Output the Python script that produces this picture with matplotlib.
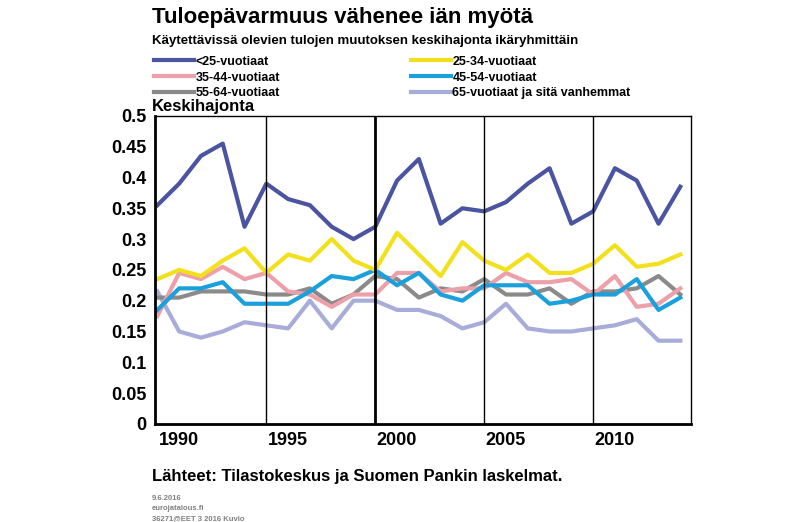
import matplotlib
matplotlib.use("Agg")
import matplotlib.pyplot as plt
from matplotlib.lines import Line2D

years = list(range(1989, 2014))
under25 = [0.355, 0.39, 0.435, 0.455, 0.32, 0.39, 0.365, 0.355, 0.32, 0.30, 0.32, 0.395, 0.43,
           0.325, 0.35, 0.345, 0.36, 0.39, 0.415, 0.325, 0.345, 0.415, 0.395, 0.325, 0.385]
age25_34 = [0.235, 0.25, 0.24, 0.265, 0.285, 0.245, 0.275, 0.265, 0.30, 0.265, 0.25, 0.31, 0.275,
            0.24, 0.295, 0.265, 0.25, 0.275, 0.245, 0.245, 0.26, 0.29, 0.255, 0.26, 0.275]
age35_44 = [0.175, 0.245, 0.235, 0.255, 0.235, 0.245, 0.215, 0.21, 0.19, 0.21, 0.21, 0.245, 0.245,
            0.215, 0.22, 0.22, 0.245, 0.23, 0.23, 0.235, 0.21, 0.24, 0.19, 0.195, 0.22]
age45_54 = [0.185, 0.22, 0.22, 0.23, 0.195, 0.195, 0.195, 0.215, 0.24, 0.235, 0.25, 0.225, 0.245,
            0.21, 0.2, 0.225, 0.225, 0.225, 0.195, 0.2, 0.21, 0.21, 0.235, 0.185, 0.205]
age55_64 = [0.205, 0.205, 0.215, 0.215, 0.215, 0.21, 0.21, 0.22, 0.195, 0.21, 0.24, 0.235, 0.205,
            0.22, 0.215, 0.235, 0.21, 0.21, 0.22, 0.195, 0.215, 0.215, 0.22, 0.24, 0.21]
age65 = [0.215, 0.15, 0.14, 0.15, 0.165, 0.16, 0.155, 0.2, 0.155, 0.2, 0.2, 0.185, 0.185,
         0.175, 0.155, 0.165, 0.195, 0.155, 0.15, 0.15, 0.155, 0.16, 0.17, 0.135, 0.135]

series = [("<25-vuotiaat", under25, "#4a54a0"),
          ("25-34-vuotiaat", age25_34, "#f2e01a"),
          ("35-44-vuotiaat", age35_44, "#eda0a8"),
          ("45-54-vuotiaat", age45_54, "#1aa0dc"),
          ("55-64-vuotiaat", age55_64, "#8a8a8a"),
          ("65-vuotiaat ja sitä vanhemmat", age65, "#a8acd8")]
# draw order: <25 last so it sits on top
draw_order = [5, 4, 2, 3, 1, 0]

plt.rcParams["font.family"] = "Liberation Sans"
fig = plt.figure(figsize=(8, 5.22), dpi=100)
ax = fig.add_axes([0.194, 0.188, 0.67, 0.59])
for i in draw_order:
    name, vals, col = series[i]
    ax.plot(years, vals, color=col, lw=3)

ax.set_xlim(1988.9, 2013.5)
ax.set_ylim(0, 0.5)
ax.set_yticks([i * 0.05 for i in range(11)])
ax.set_yticklabels(["0", "0.05", "0.1", "0.15", "0.2", "0.25", "0.3", "0.35", "0.4", "0.45", "0.5"],
                   fontsize=13, fontweight="bold")
ax.set_xticks([1990, 1995, 2000, 2005, 2010])
ax.set_xticklabels(["1990", "1995", "2000", "2005", "2010"], fontsize=13, fontweight="bold")
for x in [1994, 2004, 2009]:
    ax.axvline(x, color="black", lw=1)
ax.axvline(1999, color="black", lw=2)
ax.tick_params(length=0, pad=6)
for s in ax.spines.values():
    s.set_linewidth(1)
ax.spines["left"].set_linewidth(2)
ax.spines["bottom"].set_linewidth(2)

fig.text(0.19, 0.955, "Tuloepävarmuus vähenee iän myötä", fontsize=16, fontweight="bold")
fig.text(0.19, 0.915, "Käytettävissä olevien tulojen muutoksen keskihajonta ikäryhmittäin",
         fontsize=9.5, fontweight="bold")
fig.text(0.19, 0.788, "Keskihajonta", fontsize=12, fontweight="bold")

handles = [Line2D([0], [0], color=c, lw=3) for _, _, c in series]
labels = [n for n, _, _ in series]
order = [0, 2, 4, 1, 3, 5]
fig.legend([handles[i] for i in order], [labels[i] for i in order], ncol=2,
           loc="upper left", bbox_to_anchor=(0.185, 0.905), frameon=False,
           prop={"size": 9, "weight": "bold"}, handlelength=3.2, handletextpad=0.1,
           labelspacing=0.3, columnspacing=10.5, borderpad=0)

fig.text(0.19, 0.078, "Lähteet: Tilastokeskus ja Suomen Pankin laskelmat.", fontsize=12, fontweight="bold")
fig.text(0.19, 0.043, "9.6.2016", fontsize=5.5, color="#808080", fontweight="bold")
fig.text(0.19, 0.023, "eurojatalous.fi", fontsize=5.5, color="#808080", fontweight="bold")
fig.text(0.19, 0.003, "36271@EET 3 2016 Kuvio", fontsize=5.5, color="#808080", fontweight="bold")

fig.savefig("out.png", dpi=100)
